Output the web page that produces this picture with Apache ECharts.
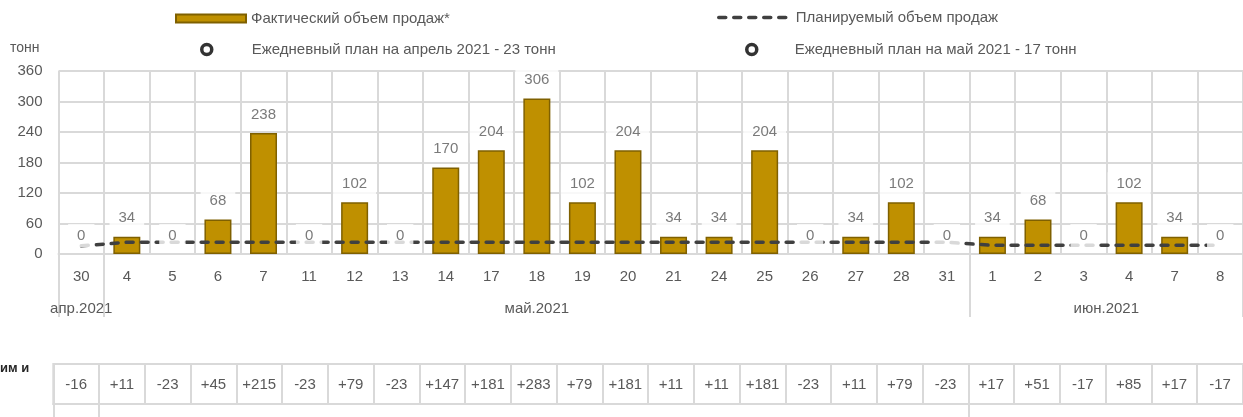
<!DOCTYPE html>
<html>
<head>
<meta charset="utf-8">
<script src="https://cdn.jsdelivr.net/npm/echarts@6/dist/echarts.min.js"></script>
<style>
html,body{margin:0;padding:0;background:#fff;}
#chart{width:1243px;height:417px;}
</style>
</head>
<body>
<div id="chart"></div>
<script>
// ---- data ----
const days = ['30','4','5','6','7','11','12','13','14','17','18','19','20','21','24','25','26','27','28','31','1','2','3','4','7','8'];
const actual = [0,34,0,68,238,0,102,0,170,204,306,102,204,34,34,204,0,34,102,0,34,68,0,102,34,0];
const plan = [16,23,23,23,23,23,23,23,23,23,23,23,23,23,23,23,23,23,23,23,17,17,17,17,17,17];
const diffs = ['-16','+11','-23','+45','+215','-23','+79','-23','+147','+181','+283','+79','+181','+11','+11','+181','-23','+11','+79','-23','+17','+51','-17','+85','+17','-17'];
const months = ['апр.2021','май.2021','июн.2021'];
const monthCounts = [1,19,6];
const yTicks = [0,60,120,180,240,300,360];
const seriesNames = ['Фактический объем продаж*','Планируемый объем продаж','Ежедневный план на апрель 2021 - 23 тонн','Ежедневный план на май 2021 - 17 тонн'];
const yUnit = 'тонн';
const rowHeader = 'им и';

// month group centers and boundaries (in category index units)
const monthCenters = [], monthBounds = [-0.5];
let start = 0;
monthCounts.forEach(c => { monthCenters.push(start + (c - 1) / 2); start += c; monthBounds.push(start - 0.5); });
const monthLabelMap = {};
monthCenters.forEach((c, i) => { monthLabelMap[c] = months[i]; });

const FONT = '"Liberation Sans", Arial, sans-serif';
const TXT = '#595959';
const GRID = '#d9d9d9';
const BAR = '#bf9000', BAR_EDGE = '#7f6000', PLAN = '#404040';

// zero-height bars: no outline
const barData = actual.map(v => v === 0 ? {value: v, itemStyle: {borderWidth: 0}} : v);

const legendText = {fontSize: 15, color: TXT, fontFamily: FONT};
const ringStyle = {color: '#fff', borderColor: '#000', borderWidth: 3.5};

const chart = echarts.init(document.getElementById('chart'), null, {renderer: 'canvas'});
const option = {
  animation: false,
  textStyle: {fontFamily: FONT, color: TXT},
  title: [
    {text: rowHeader, left: 0, top: 362, padding: 0, textStyle: {fontSize: 13, fontWeight: 'bold', color: '#262626', fontFamily: FONT}},
    {text: yUnit, left: 10, top: 41, padding: 0, textStyle: {fontSize: 14, fontWeight: 'normal', color: TXT, fontFamily: FONT}}
  ],
  legend: [
    {data: [seriesNames[0]], left: 175, top: 11, padding: 0, itemWidth: 70, itemHeight: 8, itemGap: 0, icon: 'rect', textStyle: legendText},
    {data: [seriesNames[1]], left: 717, top: 10, padding: 0, itemWidth: 72, itemHeight: 10, itemGap: 0, textStyle: legendText,
     itemStyle: {opacity: 0},
     lineStyle: {color: PLAN, width: 3.5, type: [7, 8], cap: 'round'}},
    {data: [seriesNames[2]], left: 200, top: 42, padding: 0, itemWidth: 10, itemHeight: 10, itemGap: 0, icon: 'circle',
     itemStyle: ringStyle, textStyle: Object.assign({padding: [0, 0, 0, 35]}, legendText)},
    {data: [seriesNames[3]], left: 745, top: 42, padding: 0, itemWidth: 10, itemHeight: 10, itemGap: 0, icon: 'circle',
     itemStyle: ringStyle, textStyle: Object.assign({padding: [0, 0, 0, 33]}, legendText)}
  ],
  grid: [
    {left: 58.5, top: 71, width: 26 * 46.05, height: 183, containLabel: false},
    {left: 53.3, top: 364, width: 26 * 46.15, height: 40, containLabel: false,
     show: true, borderColor: GRID, borderWidth: 2, backgroundColor: 'transparent'}
  ],
  xAxis: [
    {type: 'category', gridIndex: 0, data: days, boundaryGap: true,
     axisLine: {show: true, lineStyle: {color: GRID, width: 2}},
     axisTick: {show: false},
     axisLabel: {fontSize: 15, color: TXT, margin: 15, interval: 0, fontFamily: FONT},
     splitLine: {show: true, interval: 0, lineStyle: {color: GRID, width: 2}}},
    {type: 'value', gridIndex: 0, min: -0.5, max: 25.5, position: 'bottom',
     axisLine: {show: false}, splitLine: {show: false},
     axisTick: {show: true, customValues: monthBounds, length: 63, lineStyle: {color: GRID, width: 2}},
     axisLabel: {show: true, customValues: monthCenters, margin: 47, fontSize: 15, color: TXT, fontFamily: FONT,
       formatter: v => monthLabelMap[v] || ''}},
    {type: 'category', gridIndex: 1, data: days, boundaryGap: true, position: 'bottom',
     axisLine: {show: true, lineStyle: {color: GRID, width: 2}},
     axisTick: {show: false},
     axisLabel: {inside: true, margin: 12, interval: 0, fontSize: 15, color: TXT, fontFamily: FONT,
       formatter: (v, i) => diffs[i]},
     splitLine: {show: true, interval: 0, lineStyle: {color: GRID, width: 2}}},
    {type: 'value', gridIndex: 1, min: -0.5, max: 25.5, position: 'bottom',
     axisLine: {show: false}, splitLine: {show: false}, axisLabel: {show: false},
     axisTick: {show: true, customValues: monthBounds.slice(0, 3), length: 14, lineStyle: {color: GRID, width: 2}}}
  ],
  yAxis: [
    {type: 'value', gridIndex: 0, min: yTicks[0], max: yTicks[yTicks.length - 1], interval: 60,
     axisLine: {show: false}, axisTick: {show: false},
     axisLabel: {fontSize: 15, color: TXT, margin: 16, fontFamily: FONT},
     splitLine: {show: true, lineStyle: {color: GRID, width: 2}}},
    {type: 'value', gridIndex: 1, show: false, min: 0, max: 1}
  ],
  series: [
    {name: seriesNames[0], type: 'bar', xAxisIndex: 0, yAxisIndex: 0, data: barData, barWidth: 27,
     itemStyle: {color: BAR, borderColor: BAR_EDGE, borderWidth: 1.5}},
    {name: seriesNames[1], type: 'line', xAxisIndex: 0, yAxisIndex: 0, data: plan, symbol: 'none',
     lineStyle: {color: PLAN, width: 3.5, type: [7, 8], cap: 'round'},
     itemStyle: {color: PLAN}},
    {name: 'labels', type: 'scatter', xAxisIndex: 0, yAxisIndex: 0, data: actual, symbolSize: 0, z: 5, silent: true,
     label: {show: true, position: 'top', distance: 7, fontSize: 15, color: TXT, fontFamily: FONT,
       backgroundColor: '#fff', padding: [4, 9]}},
    {name: seriesNames[2], type: 'scatter', xAxisIndex: 0, yAxisIndex: 0, data: [], itemStyle: ringStyle},
    {name: seriesNames[3], type: 'scatter', xAxisIndex: 0, yAxisIndex: 0, data: [], itemStyle: ringStyle}
  ]
};
chart.setOption(option);
</script>
</body>
</html>
